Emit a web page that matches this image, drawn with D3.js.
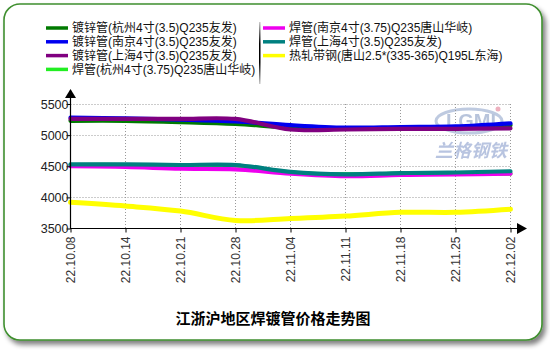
<!DOCTYPE html>
<html>
<head>
<meta charset="utf-8">
<script src="https://cdn.jsdelivr.net/npm/d3@7/dist/d3.min.js"></script>
<style>
  html, body { margin: 0; padding: 0; background: #fff; }
  svg { display: block; }
</style>
</head>
<body>
<svg id="chart" width="550" height="350"></svg>
<script>
// Weekly price dates
const dates = ["22.10.08", "22.10.14", "22.10.21", "22.10.28", "22.11.04", "22.11.11", "22.11.18", "22.11.25", "22.12.02"];

// Series names (legend order)
const seriesNames = [
  "镀锌管(杭州4寸(3.5)Q235友发)",
  "镀锌管(南京4寸(3.5)Q235友发)",
  "镀锌管(上海4寸(3.5)Q235友发)",
  "焊管(杭州4寸(3.75)Q235唐山华岐)",
  "焊管(南京4寸(3.75)Q235唐山华岐)",
  "焊管(上海4寸(3.5)Q235友发)",
  "热轧带钢(唐山2.5*(335-365)Q195L东海)"
];
const seriesColors = ["#007a00", "#0000f0", "#800080", "#22ee22", "#ee00ee", "#008080", "#ffff00"];

// Prices, yuan/ton
const galvHangzhou = [5230, 5230, 5210, 5180, 5120, 5110, 5110, 5120, 5160];
const galvNanjing  = [5280, 5270, 5250, 5220, 5160, 5120, 5130, 5140, 5190];
const galvShanghai = [5260, 5260, 5260, 5260, 5090, 5090, 5100, 5100, 5110];
const weldHangzhou = [4520, 4520, 4510, 4510, 4400, 4370, 4380, 4390, 4380];
const weldNanjing  = [4500, 4490, 4460, 4450, 4380, 4340, 4360, 4370, 4380];
const weldShanghai = [4530, 4530, 4520, 4520, 4410, 4370, 4390, 4400, 4420];
const stripTangshan = [3920, 3860, 3780, 3630, 3660, 3700, 3760, 3760, 3810];

const yTicks = [3500, 4000, 4500, 5000, 5500];
const title = "江浙沪地区焊镀管价格走势图";

const series = [galvHangzhou, galvNanjing, galvShanghai, weldHangzhou, weldNanjing, weldShanghai, stripTangshan];

const svg = d3.select("#chart");
const defs = svg.append("defs");

// Frame shadow
const sh = defs.append("filter").attr("id", "shadow").attr("x", "-5%").attr("y", "-5%").attr("width", "115%").attr("height", "120%");
sh.append("feGaussianBlur").attr("in", "SourceAlpha").attr("stdDeviation", 2.5);
sh.append("feOffset").attr("dx", 3).attr("dy", 4).attr("result", "ob");
sh.append("feComponentTransfer").append("feFuncA").attr("type", "linear").attr("slope", 0.5);
const m = sh.append("feMerge");
m.append("feMergeNode");
m.append("feMergeNode").attr("in", "SourceGraphic");

// Soft line edges
const soft = defs.append("filter").attr("id", "soft");
soft.append("feGaussianBlur").attr("stdDeviation", 0.5);

// Divider gradient
const grad = defs.append("linearGradient").attr("id", "divider").attr("x1", 0).attr("x2", 0).attr("y1", 0).attr("y2", 1);
grad.append("stop").attr("offset", "0%").attr("stop-color", "#ccc");
grad.append("stop").attr("offset", "35%").attr("stop-color", "#000");
grad.append("stop").attr("offset", "65%").attr("stop-color", "#000");
grad.append("stop").attr("offset", "100%").attr("stop-color", "#ccc");

// Rounded frame
svg.append("rect")
  .attr("x", 4).attr("y", 4).attr("width", 538).attr("height", 336)
  .attr("rx", 16).attr("ry", 16)
  .attr("fill", "#fff").attr("stroke", "#3f8f2f").attr("stroke-width", 1.6)
  .attr("filter", "url(#shadow)");

// Scales
const x = d3.scalePoint().domain(dates).range([70.5, 510.5]);
const y = d3.scaleLinear().domain([3500, 5500]).range([228.5, 104]);

// Watermark
const wm = svg.append("g").attr("opacity", 0.55);
wm.append("ellipse").attr("cx", 469).attr("cy", 121).attr("rx", 33).attr("ry", 12)
  .attr("fill", "none").attr("stroke", "#8aa0c8").attr("stroke-width", 3);
wm.append("text").attr("x", 471).attr("y", 128).attr("text-anchor", "middle")
  .attr("font-family", "Liberation Sans, Arial, sans-serif").attr("font-size", 20)
  .attr("font-weight", "bold").attr("fill", "#7f95bf").text("LGMI");
wm.append("circle").attr("cx", 498).attr("cy", 109).attr("r", 2.5).attr("fill", "#e0708a");
wm.append("text").attr("x", 471).attr("y", 157).attr("text-anchor", "middle")
  .attr("font-family", "Noto Sans CJK SC").attr("font-size", 18).attr("font-weight", "bold")
  .attr("fill", "#7f95c8").attr("font-style", "italic").text("兰格钢铁");

// Grid
const grid = svg.append("g").attr("stroke", "#999").attr("stroke-width", 1).attr("stroke-dasharray", "1,2");
grid.selectAll("line.v").data(dates.slice(1)).join("line")
  .attr("x1", d => x(d)).attr("x2", d => x(d)).attr("y1", 104).attr("y2", 228.5);
grid.selectAll("line.h").data(yTicks.slice(1)).join("line")
  .attr("x1", 70.5).attr("x2", 510.5).attr("y1", d => Math.round(y(d)) + 0.5).attr("y2", d => Math.round(y(d)) + 0.5);

// Series lines
const line = d3.line().x((d, i) => x(dates[i])).y(d => y(d)).curve(d3.curveCatmullRom.alpha(0.5));
svg.append("g").attr("filter", "url(#soft)")
  .selectAll("path").data(series).join("path")
  .attr("d", d => line(d))
  .attr("fill", "none")
  .attr("stroke", (d, i) => seriesColors[i])
  .attr("stroke-width", (d, i) => i === 6 ? 5 : 4.2)
  .attr("stroke-linecap", "round");

// Axes
const yAxis = d3.axisLeft(y).tickValues(yTicks).tickSize(4).tickFormat(d3.format("d"));
const gy = svg.append("g").attr("transform", "translate(70.5,0)").call(yAxis);
gy.select(".domain").remove();
gy.selectAll("text").attr("x", -2).attr("font-family", "Liberation Sans, Arial, sans-serif")
  .attr("font-size", 12.5).attr("fill", "#222");
gy.selectAll("line").attr("stroke", "#000");

const xAxis = d3.axisBottom(x).tickSize(4);
const gx = svg.append("g").attr("transform", "translate(0,228.5)").call(xAxis);
gx.select(".domain").remove();
gx.selectAll("line").attr("stroke", "#000");
gx.selectAll("text")
  .attr("transform", "rotate(-90)")
  .attr("text-anchor", "end")
  .attr("x", -8).attr("y", 0).attr("dy", "0.35em")
  .attr("font-family", "Liberation Sans, Arial, sans-serif")
  .attr("font-size", 12).attr("fill", "#333");

// Axis lines with arrow heads
svg.append("line").attr("x1", 70.5).attr("x2", 70.5).attr("y1", 229).attr("y2", 97).attr("stroke", "#000").attr("stroke-width", 1.2);
svg.append("line").attr("x1", 70).attr("x2", 518).attr("y1", 228.5).attr("y2", 228.5).attr("stroke", "#000").attr("stroke-width", 1.2);
svg.append("path").attr("d", "M70.5,89 L65,98 L76,98 Z").attr("fill", "#000");
svg.append("path").attr("d", "M527,228.5 L517,223 L517,234 Z").attr("fill", "#000");

// Legend
const legendRows = [
  { i: 0, col: 0, row: 0 }, { i: 1, col: 0, row: 1 }, { i: 2, col: 0, row: 2 }, { i: 3, col: 0, row: 3 },
  { i: 4, col: 1, row: 0 }, { i: 5, col: 1, row: 1 }, { i: 6, col: 1, row: 2 }
];
const colX = [46, 263];
const lg = svg.append("g");
const items = lg.selectAll("g").data(legendRows).join("g")
  .attr("transform", d => `translate(${colX[d.col]},${28 + d.row * 13.8})`);
items.append("line").attr("x1", 0).attr("x2", 22).attr("y1", 0).attr("y2", 0)
  .attr("stroke", d => seriesColors[d.i]).attr("stroke-width", 3.5);
items.append("text").attr("x", 26).attr("y", 0).attr("dy", "0.36em")
  .attr("font-family", "Liberation Sans, Noto Sans CJK SC, sans-serif")
  .attr("font-size", 12).attr("fill", "#111")
  .text(d => seriesNames[d.i]);
lg.append("rect").attr("x", 259).attr("y", 22).attr("width", 1.5).attr("height", 62).attr("fill", "url(#divider)");

// Title
svg.append("text").attr("x", 273).attr("y", 324).attr("text-anchor", "middle")
  .attr("font-family", "Noto Sans CJK SC").attr("font-weight", "bold").attr("font-size", 15)
  .attr("fill", "#000").text(title);
</script>
</body>
</html>
